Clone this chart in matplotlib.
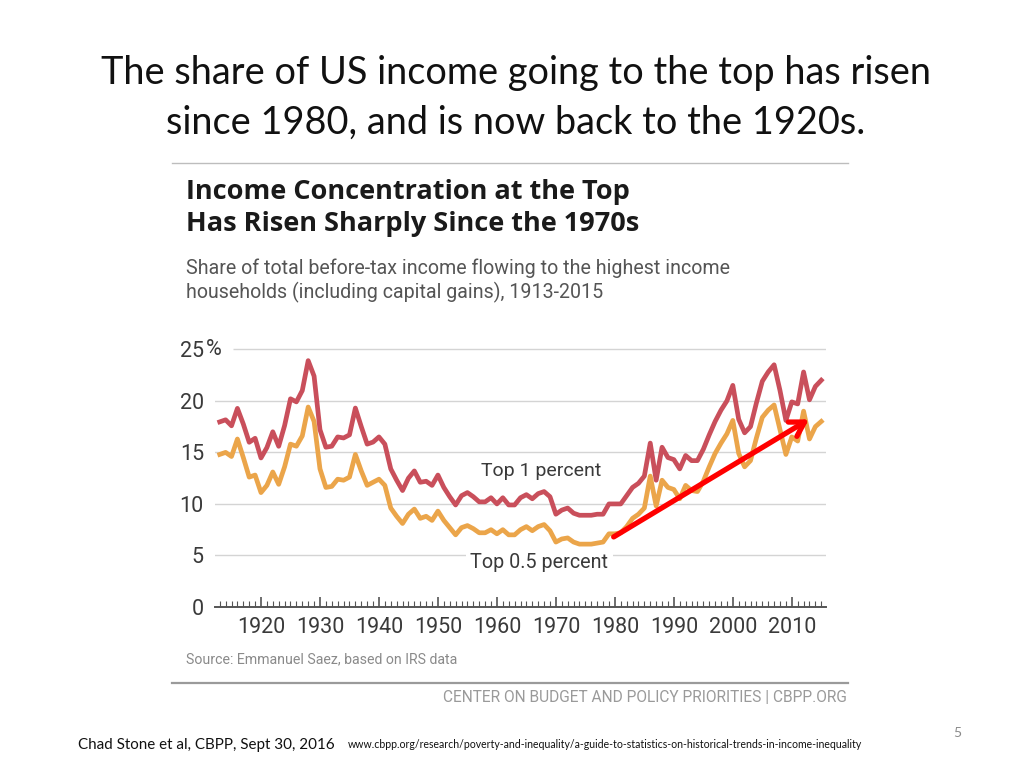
import numpy as np
import matplotlib
matplotlib.use("Agg")
import matplotlib.pyplot as plt

# ── Data: share of pre-tax income (incl. capital gains), Saez ───────────────
years = list(range(1913, 2016))
top1 = [17.96, 18.16, 17.58, 19.27, 17.75, 15.98, 16.37, 14.46, 15.47, 17.0,
        15.59, 17.6, 20.2, 19.9, 21.0, 23.9, 22.4, 17.2, 15.5, 15.6,
        16.5, 16.4, 16.7, 19.3, 17.5, 15.8, 16.0, 16.5, 15.8, 13.4,
        12.3, 11.3, 12.5, 13.2, 12.1, 12.2, 11.8, 12.8, 11.6, 10.7,
        9.9, 10.8, 11.1, 10.7, 10.2, 10.2, 10.6, 10.0, 10.6, 9.9,
        9.9, 10.6, 10.9, 10.5, 11.0, 11.2, 10.7, 9.0, 9.4, 9.6,
        9.1, 8.9, 8.9, 8.9, 9.0, 9.0, 10.0, 10.0, 10.0, 10.8,
        11.6, 12.0, 12.7, 15.9, 12.3, 15.5, 14.5, 14.3, 13.4, 14.7,
        14.2, 14.2, 15.3, 16.7, 18.0, 19.1, 20.0, 21.5, 18.2, 16.9,
        17.5, 19.8, 21.9, 22.8, 23.5, 21.0, 18.1, 19.9, 19.7, 22.8,
        20.1, 21.4, 22.0]
top05 = [14.8, 15.0, 14.6, 16.3, 14.5, 12.6, 12.8, 11.1, 11.8, 13.1,
         11.9, 13.6, 15.8, 15.6, 16.6, 19.4, 18.0, 13.4, 11.6, 11.7,
         12.4, 12.3, 12.6, 14.8, 13.2, 11.8, 12.1, 12.4, 11.8, 9.6,
         8.8, 8.1, 9.0, 9.5, 8.6, 8.8, 8.4, 9.3, 8.4, 7.7,
         7.0, 7.7, 7.9, 7.6, 7.2, 7.2, 7.5, 7.1, 7.5, 7.0,
         7.0, 7.5, 7.8, 7.4, 7.8, 8.0, 7.4, 6.3, 6.6, 6.7,
         6.3, 6.1, 6.1, 6.1, 6.2, 6.3, 7.1, 7.1, 7.2, 7.8,
         8.6, 9.0, 9.6, 12.7, 9.8, 12.3, 11.6, 11.4, 10.5, 11.8,
         11.3, 11.2, 12.2, 13.6, 14.9, 15.9, 16.8, 18.1, 14.9, 13.6,
         14.2, 16.4, 18.4, 19.1, 19.6, 17.2, 14.8, 16.5, 16.1, 19.0,
         16.3, 17.5, 18.0]
y_ticks = [0, 5, 10, 15, 20, 25]
x_major = list(range(1920, 2011, 10))
arrow_from = (1979.8, 6.8)
arrow_to = (2012.9, 18.2)

# ── Colours / fonts ─────────────────────────────────────────────────────────
TOP1_C = "#c94f5b"
TOP05_C = "#eba54a"
GRID_C = "#d4d4d4"
TXT_C = "#3a3a3a"
NARROW = ["Roboto", "DejaVu Sans"]
HEAD = ["Open Sans", "DejaVu Sans"]
SLIDE = ["Lato", "DejaVu Sans"]

W, H = 1024, 768
fig = plt.figure(figsize=(W / 100, H / 100), dpi=100)
fig.patch.set_facecolor("white")


def fx(x):
    return x / W


def fy(y):
    return 1 - y / H


# ── Slide text ──────────────────────────────────────────────────────────────
fig.text(fx(516), fy(84), "The share of US income going to the top has risen",
         ha="center", va="baseline", fontsize=27.3, family=SLIDE, color="#111111")
fig.text(fx(516), fy(134), "since 1980, and is now back to the 1920s.",
         ha="center", va="baseline", fontsize=27.3, family=SLIDE, color="#111111")

# chart frame rules
fig.add_artist(plt.Line2D([fx(172), fx(848)], [fy(163), fy(163)],
                          color="#bdbdbd", lw=1.0))
fig.add_artist(plt.Line2D([fx(172), fx(848)], [fy(683), fy(683)],
                          color="#9a9a9a", lw=1.6))

fig.text(fx(186), fy(199), "Income Concentration at the Top",
         ha="left", va="baseline", fontsize=19.5, weight="bold", family=HEAD,
         color="#1a1a1a")
fig.text(fx(186), fy(231), "Has Risen Sharply Since the 1970s",
         ha="left", va="baseline", fontsize=19.5, weight="bold", family=HEAD,
         color="#1a1a1a")
fig.text(fx(186), fy(274),
         "Share of total before-tax income flowing to the highest income",
         ha="left", va="baseline", fontsize=14.1, family=NARROW, color="#555555")
fig.text(fx(186), fy(298),
         "households (including capital gains), 1913-2015",
         ha="left", va="baseline", fontsize=14.1, family=NARROW, color="#555555")

fig.text(fx(186), fy(659), "Source: Emmanuel Saez, based on IRS data",
         ha="left", va="center", fontsize=10.2, family=NARROW, color="#8a8a8a")
fig.text(fx(847), fy(697), "CENTER ON BUDGET AND POLICY PRIORITIES | CBPP.ORG",
         ha="right", va="center", fontsize=11.2, family=NARROW, color="#9a9a9a")

fig.text(fx(78), fy(745), "Chad Stone et al, CBPP, Sept 30, 2016",
         ha="left", va="center", fontsize=10.9, family=SLIDE, color="#111111")
fig.text(fx(348), fy(745),
         "www.cbpp.org/research/poverty-and-inequality/a-guide-to-statistics-on-historical-trends-in-income-inequality",
         ha="left", va="center", fontsize=7.6, family=SLIDE, color="#111111")
fig.text(fx(957), fy(733), "5", ha="center", va="center", fontsize=10,
         family=SLIDE, color="#8a8a8a")

# ── Axes ────────────────────────────────────────────────────────────────────
ax_l, ax_r, ax_b, ax_t = 215, 826, 607, 339
ax = fig.add_axes([fx(ax_l), fy(ax_b), (ax_r - ax_l) / W, (ax_b - ax_t) / H])
ax.set_facecolor("none")
ax.set_xlim(1912.2, 2015.8)
ax.set_ylim(0, 26)

for v in y_ticks[1:-1]:
    ax.axhline(v, color=GRID_C, lw=1.0, zorder=1)
ax.hlines(25, 1915.2, 2015.8, color=GRID_C, lw=1.0, zorder=1)

ax.plot(years, top05, color=TOP05_C, lw=3.4, solid_joinstyle="round", zorder=3)
ax.plot(years, top1, color=TOP1_C, lw=3.4, solid_joinstyle="round", zorder=4)

ax.text(1957.3, 13.2, "Top 1 percent", ha="left", va="center", fontsize=14,
        family=NARROW, color=TXT_C, zorder=5)
ax.text(1955.5, 4.3, "Top 0.5 percent", ha="left", va="center", fontsize=14.2,
        family=NARROW, color=TXT_C, zorder=5,
        bbox=dict(facecolor="white", edgecolor="none", pad=3))

ax.annotate("", xy=arrow_to, xytext=arrow_from, zorder=6,
            arrowprops=dict(arrowstyle="->,head_length=1.0,head_width=0.6",
                            color="#ff0000", lw=3.8, shrinkA=0, shrinkB=0))

for s in ["top", "right", "left"]:
    ax.spines[s].set_visible(False)
ax.spines["bottom"].set_color("#555555")
ax.spines["bottom"].set_linewidth(1.4)

ax.set_xticks(x_major)
ax.set_xticks(years, minor=True)
ax.set_xticklabels([str(y) for y in x_major], family=NARROW, fontsize=15.5,
                   color=TXT_C)
ax.tick_params(axis="x", which="major", direction="in", length=7, width=1.2,
               color="#555555", pad=7)
ax.tick_params(axis="x", which="minor", direction="in", length=4, width=0.8,
               color="#555555")

ax.set_yticks(y_ticks)
ax.set_yticklabels([str(v) for v in y_ticks], family=NARROW, fontsize=15.5,
                   color=TXT_C)
ax.tick_params(axis="y", length=0, pad=8)
ax.text(-0.015, 25, "%", transform=ax.get_yaxis_transform(), ha="left",
        va="center", fontsize=15.5, family=NARROW, color=TXT_C)

fig.savefig("out.png", dpi=100, facecolor="white")
